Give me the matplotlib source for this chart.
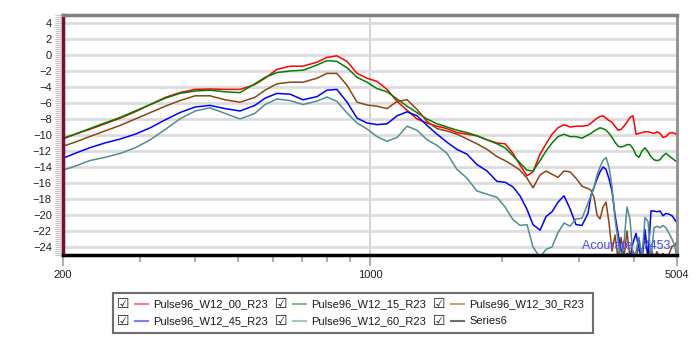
import numpy as np
import matplotlib.pyplot as plt
from matplotlib.lines import Line2D
from matplotlib.patches import Rectangle
from matplotlib.ticker import FixedLocator, NullFormatter, MultipleLocator

# frequency grid (Hz) the curves were read at
freq = [200, 213, 230, 249, 270, 292, 316, 342, 369, 400,
        432, 468, 506, 547, 577, 614, 658, 704, 758, 798,
        841, 887, 935, 985, 1038, 1094, 1153, 1215, 1280, 1349,
        1422, 1498, 1578, 1664, 1753, 1848, 1947, 2031, 2118, 2197,
        2279, 2352, 2440, 2518, 2598, 2681, 2767, 2855, 2946, 3041,
        3138, 3188, 3239, 3290, 3342, 3395, 3449, 3504, 3559, 3616,
        3673, 3731, 3790, 3850, 3911, 3973, 4036, 4100, 4165, 4231,
        4298, 4366, 4436, 4506, 4578, 4650, 4723, 4798, 4875, 4952, 5004]

db_00 = [-10.4, -9.9, -9.3, -8.6, -7.9, -7.1, -6.2, -5.3, -4.7, -4.3,
         -4.25, -4.3, -4.3, -3.7, -2.9, -1.8, -1.4, -1.4, -0.9, -0.3,
         -0.1, -0.8, -2.3, -2.9, -3.3, -4.3, -5.8, -6.9, -8.0, -8.5,
         -8.9, -9.2, -9.7, -9.9, -10.1, -10.6, -11.0, -11.1, -12.3, -13.75,
         -15.1, -14.6, -12.4, -11.1, -9.9, -9.1, -8.7, -9.0, -8.9, -8.9,
         -8.8, -8.5, -8.2, -7.9, -7.7, -7.6, -7.9, -8.2, -8.4, -8.9,
         -9.4, -9.3, -8.9, -8.4, -7.8, -7.6, -9.9, -9.8, -9.7, -9.6,
         -9.6, -9.7, -9.8, -9.6, -9.8, -10.3, -10.2, -9.8, -9.7, -9.8, -10.0]

db_15 = [-10.5, -9.9, -9.2, -8.5, -7.8, -7.0, -6.2, -5.4, -4.8, -4.5,
         -4.4, -4.6, -4.7, -3.6, -2.8, -2.2, -2.0, -1.9, -1.25, -0.7,
         -0.8, -1.6, -2.8, -3.4, -4.2, -4.6, -5.5, -6.4, -7.2, -8.0,
         -8.6, -9.0, -9.4, -9.7, -10.1, -10.6, -11.1, -11.6, -12.6, -13.5,
         -14.4, -14.5, -13.2, -12.0, -11.0, -10.2, -9.9, -10.2, -10.2, -10.4,
         -10.0, -9.8, -9.5, -9.3, -9.1, -9.2, -9.4, -9.8, -10.3, -10.9,
         -11.4, -11.5, -11.4, -11.2, -11.2, -11.7, -12.5, -12.8, -12.0, -11.6,
         -12.1, -12.7, -13.1, -13.2, -13.1, -12.6, -12.3, -12.6, -12.9, -13.2, -13.3]

db_30 = [-11.4, -10.9, -10.2, -9.5, -8.8, -8.0, -7.2, -6.4, -5.7, -5.1,
         -5.1, -5.6, -5.9, -5.3, -4.4, -3.6, -3.4, -3.4, -2.9, -2.3,
         -2.3, -3.8, -5.9, -6.25, -6.4, -6.7, -5.8, -5.6, -6.8, -8.3,
         -9.2, -9.5, -9.9, -10.5, -11.1, -11.8, -12.7, -13.2, -13.8, -14.4,
         -15.4, -16.6, -15.0, -14.5, -14.9, -15.3, -14.5, -14.6, -15.4, -16.4,
         -16.7, -16.9, -17.8, -20.0, -20.5, -19.0, -18.4, -21.0, -24.5, -22.5,
         -25.5, -22.8, -25.3, -22.0, -25.5, -24.5, -25.5, -23.5, -25.3, -22.5,
         -25.2, -24.2, -25.3, -24.6, -25.4, -24.8, -25.5, -24.9, -23.9, -23.8, -23.3]

db_45 = [-12.9, -12.3, -11.6, -11.0, -10.5, -9.9, -9.1, -8.1, -7.2, -6.5,
         -6.3, -6.7, -7.0, -6.3, -5.4, -4.8, -4.9, -5.6, -5.2, -4.4,
         -4.3, -5.9, -7.9, -8.5, -8.7, -8.6, -7.6, -7.1, -7.6, -8.8,
         -9.9, -10.9, -11.8, -12.4, -13.7, -14.5, -15.8, -15.9, -16.5, -17.6,
         -19.3, -21.2, -21.9, -20.2, -19.6, -18.4, -17.6, -19.2, -21.2, -21.3,
         -19.8, -17.5, -16.5, -15.5, -14.6, -14.0, -14.3, -15.5, -17.0, -20.0,
         -22.3, -24.4, -25.5, -24.8, -25.3, -23.5, -22.3, -24.3, -25.5, -21.8,
         -25.5, -19.5, -19.5, -19.6, -19.5, -20.1, -19.8, -19.9, -20.1, -20.6, -21.0]

db_60 = [-14.4, -13.9, -13.2, -12.8, -12.3, -11.6, -10.6, -9.3, -8.0, -7.0,
         -6.6, -7.3, -8.0, -7.3, -6.2, -5.5, -5.7, -6.2, -5.75, -5.25,
         -5.8, -7.25, -8.5, -9.25, -10.2, -10.8, -10.3, -8.9, -9.4, -10.6,
         -11.3, -12.3, -14.3, -15.4, -17.0, -17.4, -17.8, -19.0, -20.6, -21.3,
         -21.2, -24.0, -25.3, -24.3, -24.0, -22.2, -21.0, -21.4, -20.5, -20.4,
         -18.5, -17.6, -16.5, -15.0, -14.0, -13.2, -12.8, -14.0, -16.5, -20.5,
         -23.2, -25.5, -23.5, -19.0, -20.5, -25.3, -24.6, -22.8, -25.3, -20.3,
         -20.8, -25.4, -21.6, -21.4, -21.6, -21.3, -21.6, -22.3, -23.0, -24.0, -25.5]

names = ['Pulse96_W12_00_R23', 'Pulse96_W12_15_R23', 'Pulse96_W12_30_R23',
         'Pulse96_W12_45_R23', 'Pulse96_W12_60_R23', 'Series6']
colors = ['#ff0000', '#008000', '#8b4513', '#0000ff', '#4f8f8f', '#707070']
legend_colors = ['#ff8080', '#80c080', '#c4a484', '#8080ff', '#a0c8c8', '#707070']
curves = [db_00, db_15, db_30, db_45, db_60]

plt.rcParams['font.family'] = ['Liberation Sans', 'DejaVu Sans']
fig = plt.figure(figsize=(7, 3.5), dpi=100)
ax = fig.add_axes([63/700, 95/350, 614/700, 240/350])

for vals, col in zip(curves, colors):
    ax.plot(freq, vals, color=col, lw=1.1)

ax.set_xscale('log')
ax.set_xlim(200, 5004)
ax.set_ylim(-25, 5)

ax.set_yticks(np.arange(-24, 5, 2))
ax.yaxis.set_minor_locator(MultipleLocator(0.25))
ax.tick_params(axis='y', which='both', length=6, color='#c4c4c4', width=0.8,
               labelsize=8, pad=2, labelcolor='#202020')

ax.xaxis.set_major_locator(FixedLocator([200, 1000, 5004]))
ax.set_xticklabels(['200', '1000', '5004'])
ax.xaxis.set_minor_locator(FixedLocator([300, 400, 500, 600, 700, 800, 900, 2000, 3000, 4000]))
ax.xaxis.set_minor_formatter(NullFormatter())
ax.tick_params(axis='x', which='major', length=8, color='#b0b0b0', width=1.5,
               labelsize=8, pad=3, labelcolor='#202020')
ax.tick_params(axis='x', which='minor', length=5, color='#b0b0b0', width=1.5)

ax.set_axisbelow(True)
ax.yaxis.grid(True, color='#dcdcdc', lw=2)
ax.xaxis.grid(True, which='major', color='#d4d4d4', lw=1.5)

ax.spines['left'].set_color('#7a0a3a')
ax.spines['left'].set_linewidth(2.5)
ax.spines['top'].set_color('#808080')
ax.spines['top'].set_linewidth(2.5)
ax.spines['right'].set_color('#909090')
ax.spines['right'].set_linewidth(2)
ax.spines['bottom'].set_color('black')
ax.spines['bottom'].set_linewidth(2.5)

ax.text(0.989, 0.012, 'Acourate 17453', transform=ax.transAxes, ha='right', va='bottom',
        color='#4a4aff', fontsize=9)

# legend box drawn by hand (checkbox, line, name)
fig.add_artist(Rectangle((113/700, 1 - 333/350), 480/700, 40/350, fill=False,
                         edgecolor='#6e6e6e', lw=1.5, transform=fig.transFigure))
col_x = [123, 281, 439]
row_y = [304, 321]
for i, (name, lc) in enumerate(zip(names, legend_colors)):
    cx = col_x[i % 3]
    cy = row_y[i // 3]
    fig.text(cx / 700, 1 - cy / 350, '\u2611', family='DejaVu Sans', fontsize=10,
             ha='center', va='center', color='#202020')
    fig.add_artist(Line2D([(cx + 12) / 700, (cx + 25) / 700], [1 - cy / 350] * 2,
                          color=lc, lw=1.5, transform=fig.transFigure))
    fig.text((cx + 30) / 700, 1 - cy / 350, name, fontsize=8, ha='left', va='center',
             color='#1a1a1a')

fig.savefig('out.png', dpi=100)
